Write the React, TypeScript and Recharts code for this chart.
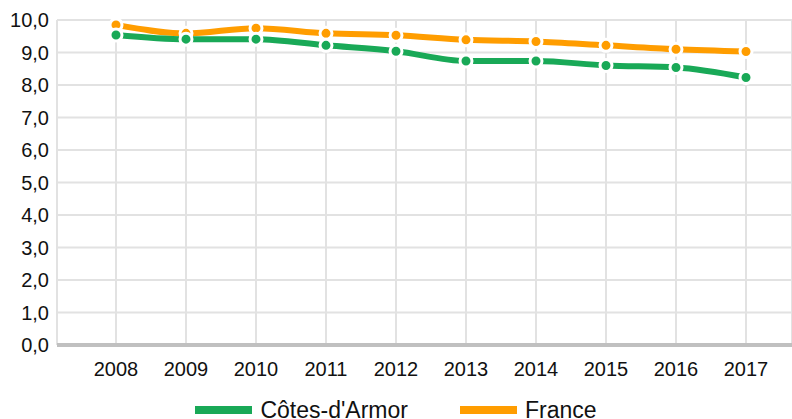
import React from "react";
import { LineChart, Line, XAxis, YAxis, CartesianGrid, Legend } from "recharts";

const years = ["2008", "2009", "2010", "2011", "2012", "2013", "2014", "2015", "2016", "2017"];
const cotesArmor = [9.54, 9.41, 9.41, 9.22, 9.04, 8.74, 8.74, 8.6, 8.54, 8.23];
const france = [9.85, 9.59, 9.75, 9.59, 9.53, 9.39, 9.34, 9.22, 9.1, 9.03];
const yTicks = [0, 1, 2, 3, 4, 5, 6, 7, 8, 9, 10];

const GREEN = "#19a957";
const ORANGE = "#ff9d00";

const data = years.map((y, i) => ({ year: y, cotes: cotesArmor[i], france: france[i] }));

const fmt = (v: number) => v.toFixed(1).replace(".", ",");

function LegendBox() {
   const items = [
      { label: "Côtes-d'Armor", color: GREEN },
      { label: "France", color: ORANGE },
   ];
   return (
      <div style={{ height: 50, display: "flex", justifyContent: "center", alignItems: "flex-start", paddingTop: 7, boxSizing: "border-box" }}>
         {items.map((it, i) => (
            <span key={it.label} style={{ display: "flex", alignItems: "center", marginLeft: i > 0 ? 52 : 0 }}>
               <span style={{ width: 57, height: 8, background: it.color, display: "inline-block", marginRight: 8 }} />
               <span style={{ fontSize: 23, color: "#111", lineHeight: "26px" }}>{it.label}</span>
            </span>
         ))}
      </div>
   );
}

export default function App() {
   return (
      <div style={{ position: "absolute", left: 0, top: 0, width: 792, height: 419, overflow: "hidden", background: "#fff" }}>
         <LineChart
            width={792}
            height={440}
            data={data}
            margin={{ top: 20, right: 0, left: 0, bottom: 0 }}
            style={{ fontFamily: "'Liberation Sans', Arial, sans-serif" }}
         >
            <CartesianGrid stroke="#e2e2e2" strokeWidth={2} />
            <XAxis
               dataKey="year"
               height={45}
               padding={{ left: 59, right: 46 }}
               tickLine={false}
               tickSize={0}
               tickMargin={17}
               axisLine={{ stroke: "#c0c0c0", strokeWidth: 4 }}
               tick={{ fontSize: 20, fill: "#111" }}
               interval={0}
            />
            <YAxis
               width={57}
               domain={[0, 10]}
               ticks={yTicks}
               tickFormatter={fmt}
               axisLine={false}
               tickLine={false}
               tick={{ fontSize: 20, fill: "#111" }}
            />
            <Legend verticalAlign="bottom" content={() => <LegendBox />} />
            <Line
               type="monotone"
               dataKey="france"
               name="France"
               stroke={ORANGE}
               strokeWidth={6}
               dot={{ r: 6, fill: ORANGE, stroke: "#fff", strokeWidth: 3 }}
               isAnimationActive={false}
            />
            <Line
               type="monotone"
               dataKey="cotes"
               name="Côtes-d'Armor"
               stroke={GREEN}
               strokeWidth={6}
               dot={{ r: 6, fill: GREEN, stroke: "#fff", strokeWidth: 3 }}
               isAnimationActive={false}
            />
         </LineChart>
      </div>
   );
}
